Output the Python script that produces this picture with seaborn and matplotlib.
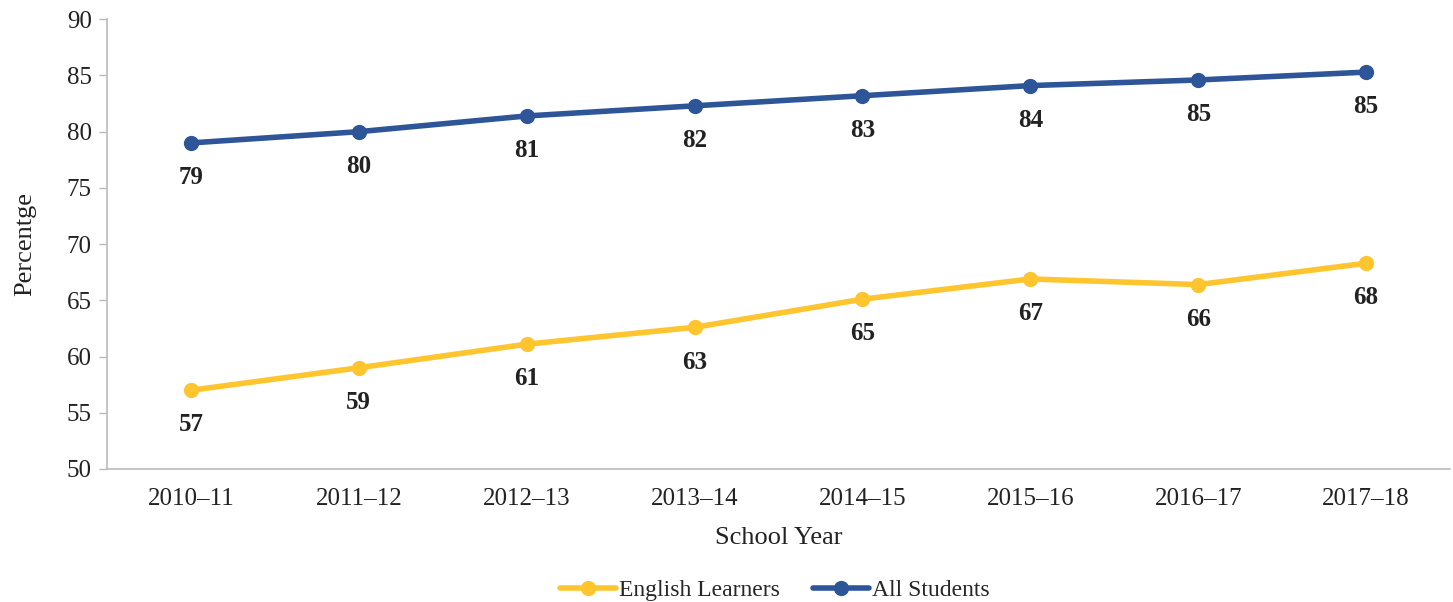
import pandas as pd
import matplotlib.pyplot as plt
import seaborn as sns

# values
years = ['2010–11', '2011–12', '2012–13', '2013–14', '2014–15', '2015–16', '2016–17', '2017–18']
english_learners = [57.0, 59.0, 61.1, 62.6, 65.1, 66.9, 66.4, 68.3]
all_students = [79.0, 80.0, 81.4, 82.3, 83.2, 84.1, 84.6, 85.3]

series_names = ['English Learners', 'All Students']
colors = {'English Learners': '#FFC52F', 'All Students': '#2E5597'}

df = pd.DataFrame({
    'year': years * 2,
    'value': english_learners + all_students,
    'group': [series_names[0]] * len(years) + [series_names[1]] * len(years),
})

sns.set_style('white')
plt.rcParams['font.family'] = ['Liberation Serif', 'DejaVu Serif']

fig = plt.figure(figsize=(14.53, 6.02), dpi=100)
ax = fig.add_axes([0.0736, 0.221, 0.9244, 0.747])

sns.lineplot(data=df, x='year', y='value', hue='group', palette=colors,
             marker='o', markersize=11, markeredgewidth=0, linewidth=4,
             sort=False, ax=ax)

# data labels below each point
for name, vals in zip(series_names, [english_learners, all_students]):
    for i, v in enumerate(vals):
        ax.annotate(f'{round(v):.0f}', (i, v), xytext=(0, -25), textcoords='offset points',
                    ha='center', va='center', fontsize=18, fontweight='bold', color='#222222')

ax.set_ylim(50, 90)
ax.set_yticks(range(50, 91, 5))
ax.set_xlim(-0.5, len(years) - 0.5)
ax.set_xlabel('School Year', fontsize=19, color='#222222', labelpad=12)
ax.set_ylabel('Percentge', fontsize=19, color='#222222', labelpad=22)
ax.tick_params(axis='both', labelsize=18, colors='#222222')
ax.tick_params(axis='y', length=6, width=1, color='#BBBBBB', left=True, pad=5)
ax.tick_params(axis='x', length=0, pad=14)

sns.despine(ax=ax)
for s in ['left', 'bottom']:
    ax.spines[s].set_color('#BBBBBB')
    ax.spines[s].set_linewidth(1.2)

handles, labels = ax.get_legend_handles_labels()
ax.legend(handles, labels, loc='center', bbox_to_anchor=(0.497, -0.27), ncol=2,
          frameon=False, fontsize=17, handlelength=2.4, handletextpad=0.1, columnspacing=1.4)

fig.savefig('out.png', dpi=100)
